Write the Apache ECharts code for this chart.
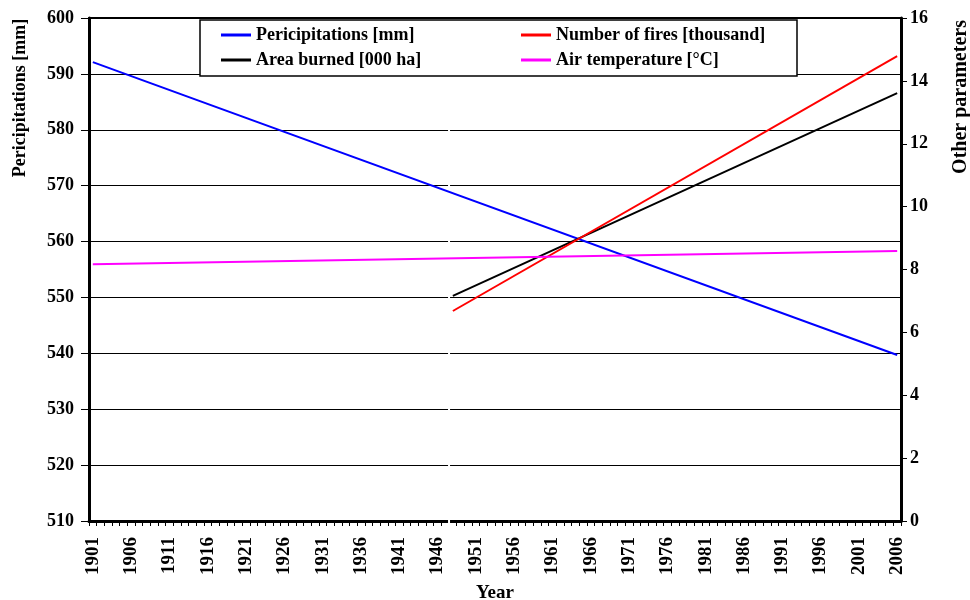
<!DOCTYPE html>
<html>
<head>
<meta charset="utf-8">
<script src="https://cdn.jsdelivr.net/npm/echarts@6/dist/echarts.min.js"></script>
<style>html,body{margin:0;padding:0;background:#fff}#c{width:970px;height:600px}</style>
</head>
<body>
<div id="c"></div>
<script>
// Categories: years 1901..2006
const years = [];
for (let y = 1901; y <= 2006; y++) years.push(String(y));

// Trend lines (endpoints)
const precipitation = [['1901', 592.1], ['2006', 539.7]];   // left axis, mm
const firesNumber   = [['1948', 6.68],  ['2006', 14.79]];   // right axis, thousand
const areaBurned    = [['1948', 7.16],  ['2006', 13.61]];   // right axis, 000 ha
const airTemp       = [['1901', 8.17],  ['2006', 8.59]];    // right axis, °C

const leftTicks = { min: 510, max: 600, interval: 10 };
const rightTicks = { min: 0, max: 16, interval: 2 };

const FONT = "'Liberation Serif', 'Times New Roman', serif";
const chart = echarts.init(document.getElementById('c'), null, { renderer: 'canvas' });

const legendBase = {
  orient: 'horizontal', padding: 0, itemWidth: 30, itemHeight: 3, icon: 'rect', z: 6,
  textStyle: { fontFamily: FONT, fontWeight: 'bold', fontSize: 18, color: '#000' },
  selectedMode: false
};

const option = {
  backgroundColor: '#fff',
  animation: false,
  grid: { left: 89, right: 69, top: 18, bottom: 79, containLabel: false },
  legend: [
    Object.assign({}, legendBase, { left: 221, top: 26, data: ['Pericipitations [mm]'] }),
    Object.assign({}, legendBase, { left: 521, top: 26, data: ['Number of fires [thousand]'] }),
    Object.assign({}, legendBase, { left: 221, top: 51, data: ['Area burned [000 ha]'] }),
    Object.assign({}, legendBase, { left: 521, top: 51, data: ['Air temperature [°C]'] })
  ],
  xAxis: [
    {
      type: 'category', data: years, boundaryGap: true, position: 'bottom',
      axisLine: { lineStyle: { color: '#000', width: 3 } },
      axisTick: { show: true, interval: 0, length: 5, lineStyle: { color: '#000', width: 1 } },
      axisLabel: { interval: 4, rotate: 90, margin: 16, fontFamily: FONT, fontWeight: 'bold', fontSize: 19, color: '#000' },
      splitLine: { show: false }
    },
    {
      type: 'category', data: years, boundaryGap: true, position: 'top',
      axisLine: { lineStyle: { color: '#000', width: 2 } },
      axisTick: { show: false }, axisLabel: { show: false }, splitLine: { show: false }
    }
  ],
  yAxis: [
    {
      type: 'value', position: 'left', min: leftTicks.min, max: leftTicks.max, interval: leftTicks.interval,
      axisLine: { show: true, lineStyle: { color: '#000', width: 3 } },
      axisTick: { show: true, length: 8, lineStyle: { color: '#000', width: 1 } },
      axisLabel: { margin: 15, fontFamily: FONT, fontWeight: 'bold', fontSize: 18, color: '#000' },
      splitLine: { show: true, lineStyle: { color: '#000', width: 1 } }
    },
    {
      type: 'value', position: 'right', min: rightTicks.min, max: rightTicks.max, interval: rightTicks.interval,
      axisLine: { show: true, lineStyle: { color: '#000', width: 3 } },
      axisTick: { show: true, length: 6, lineStyle: { color: '#000', width: 1 } },
      axisLabel: { margin: 9, fontFamily: FONT, fontWeight: 'bold', fontSize: 18, color: '#000' },
      splitLine: { show: false }
    }
  ],
  series: [
    { name: 'Pericipitations [mm]', type: 'line', yAxisIndex: 0, data: precipitation, showSymbol: false,
      lineStyle: { color: '#0000FF', width: 2 }, itemStyle: { color: '#0000FF' } },
    { name: 'Area burned [000 ha]', type: 'line', yAxisIndex: 1, data: areaBurned, showSymbol: false,
      lineStyle: { color: '#000000', width: 2 }, itemStyle: { color: '#000000' } },
    { name: 'Number of fires [thousand]', type: 'line', yAxisIndex: 1, data: firesNumber, showSymbol: false,
      lineStyle: { color: '#FF0000', width: 2 }, itemStyle: { color: '#FF0000' } },
    { name: 'Air temperature [°C]', type: 'line', yAxisIndex: 1, data: airTemp, showSymbol: false,
      lineStyle: { color: '#FF00FF', width: 2 }, itemStyle: { color: '#FF00FF' } }
  ],
  graphic: [
    { type: 'rect', id: 'legendBox', z: 5, shape: { x: 200, y: 20, width: 597, height: 56 },
      style: { fill: '#fff', stroke: '#000', lineWidth: 1.5 } },
    { type: 'text', z: 100, x: 20, y: 98, rotation: Math.PI / 2,
      style: { text: 'Pericipitations [mm]', fontFamily: FONT, fontWeight: 'bold', fontSize: 18, fill: '#000', align: 'center', verticalAlign: 'middle' } },
    { type: 'text', z: 100, x: 961, y: 97, rotation: Math.PI / 2,
      style: { text: 'Other parameters', fontFamily: FONT, fontWeight: 'bold', fontSize: 20, fill: '#000', align: 'center', verticalAlign: 'middle' } },
    { type: 'text', z: 100, x: 495, y: 593,
      style: { text: 'Year', fontFamily: FONT, fontWeight: 'bold', fontSize: 19, fill: '#000', align: 'center', verticalAlign: 'middle' } }
  ]
};
chart.setOption(option);

// thin white break between 1947 and 1948, positioned from the axis scale
const xa = chart.convertToPixel({ xAxisIndex: 0 }, '1947');
const xb = chart.convertToPixel({ xAxisIndex: 0 }, '1948');
const yTop = chart.convertToPixel({ yAxisIndex: 0 }, 590);
const yBot = chart.convertToPixel({ yAxisIndex: 0 }, 510);
chart.setOption({
  graphic: [
    { type: 'rect', id: 'gap', z: 1, shape: { x: (xa + xb) / 2 - 1, y: yTop + 2, width: 2, height: yBot - yTop + 6 },
      style: { fill: '#fff' } }
  ]
});
</script>
</body>
</html>
